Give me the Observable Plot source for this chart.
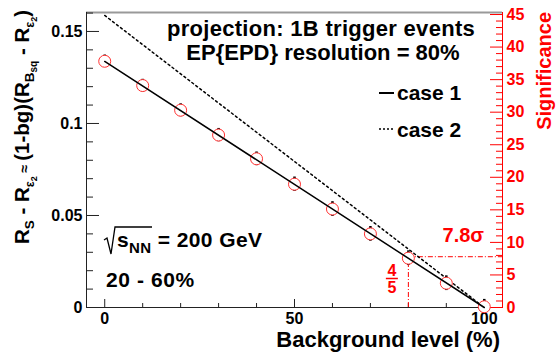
<!DOCTYPE html>
<html><head><meta charset="utf-8">
<script src="https://cdn.jsdelivr.net/npm/d3@7"></script>
<script src="https://cdn.jsdelivr.net/npm/@observablehq/plot@0.6"></script>
<style>
body{margin:0;background:#fff}
svg{font-family:"Liberation Sans",Arial,Helvetica,sans-serif;font-weight:bold}
</style>
</head><body><div id="chart"></div>
<script>
// ---- data ----
const bgLevel = [0, 10, 20, 30, 40, 50, 60, 70, 80, 90, 100];
const case1Points = [0.1338, 0.1206, 0.1072, 0.0937, 0.0808, 0.0670, 0.0535, 0.0400, 0.0268, 0.0132, 0.0004];
const pointErrors = [0.0034, 0.0034, 0.0035, 0.0036, 0.0037, 0.0039, 0.0040, 0.0040, 0.0040, 0.0040, 0.0040];
const fitBg = [0, 100];
const case1Fit = [0.1337, 0];
const case2Fit = [0.1587, 0];
const leftMajorTicks = [0, 0.05, 0.1, 0.15];
const leftTickLabels = ["0", "0.05", "0.1", "0.15"];
const xMajorTicks = [0, 50, 100];
const xMinorTicks = [10, 20, 30, 40, 60, 70, 80, 90];
const sigMajorTicks = [0, 5, 10, 15, 20, 25, 30, 35, 40, 45];
const sigMax = 45;
const sigMaxInY = 0.1592;      // left-axis value at which the right axis reads 45
const sigLevel = 7.8;
const sigBg = 80;

// ---- derived ----
const k = sigMaxInY / sigMax;
const xDom = [-4.8, 104.8];
const yDom = [0, 0.1603];
const points = bgLevel.map((b, i) => ({bg: b, v: case1Points[i], e: pointErrors[i]}));
const fit1 = fitBg.map((b, i) => ({bg: b, v: case1Fit[i]}));
const fit2 = fitBg.map((b, i) => ({bg: b, v: case2Fit[i]}));
const leftMinor = d3.range(1, 17).map(i => i / 100).filter(v => Math.abs(v * 20 - Math.round(v * 20)) > 1e-6);
const sigMinor = d3.range(1, sigMax).filter(v => v % 5 !== 0);
const RED = "#ff0000";

const plot = Plot.plot({
  width: 557, height: 356,
  marginLeft: 86, marginRight: 55, marginTop: 12, marginBottom: 49,
  x: {domain: xDom, axis: null, label: null},
  y: {domain: yDom, axis: null, label: null},
  style: {background: "white", fontFamily: '"Liberation Sans",Arial,sans-serif', fontWeight: "bold", overflow: "visible"},
  marks: [
    // frame
    Plot.ruleY([yDom[1]], {stroke: "#999", strokeWidth: 2}),
    Plot.ruleX([xDom[0]], {stroke: "#222", strokeWidth: 1}),
    Plot.ruleY([0], {stroke: "#222", strokeWidth: 1}),
    Plot.ruleX([xDom[1]], {stroke: RED, strokeWidth: 1}),
    // left axis
    Plot.axisY(leftMajorTicks, {anchor: "left", tickSize: -13, tickPadding: 17, fontSize: 16, stroke: "#222", fill: "black",
      tickFormat: d => leftTickLabels[leftMajorTicks.indexOf(d)], label: null}),
    Plot.axisY(leftMinor, {anchor: "left", tickSize: -7, stroke: "#222", fill: "none", label: null}),
    // bottom axis
    Plot.axisX(xMajorTicks, {anchor: "bottom", tickSize: -8, tickPadding: 13, fontSize: 16, stroke: "#222", fill: "black", label: null}),
    Plot.axisX(xMinorTicks, {anchor: "bottom", tickSize: -4, stroke: "#222", fill: "none", label: null}),
    // right (significance) axis
    Plot.axisY(sigMajorTicks.map(s => s * k), {anchor: "right", tickSize: -13, tickPadding: 17, fontSize: 16,
      stroke: RED, fill: RED, tickFormat: d => String(Math.round(d / k)), label: null}),
    Plot.axisY(sigMinor.map(s => s * k), {anchor: "right", tickSize: -7, stroke: RED, fill: "none", label: null}),
    // 7.8 sigma guide lines
    Plot.ruleY([sigLevel * k], {x1: sigBg, x2: xDom[1], stroke: RED, strokeWidth: 1, strokeDasharray: "5,2,1,2"}),
    Plot.ruleX([sigBg], {y1: 0, y2: sigLevel * k, stroke: RED, strokeWidth: 1, strokeDasharray: "5,2,1,2"}),
    // case 2
    Plot.line(fit2, {x: "bg", y: "v", stroke: "black", strokeWidth: 1.5, strokeDasharray: "2,3"}),
    // error bars + points
    Plot.ruleX(points, {x: "bg", y1: d => d.v - d.e, y2: d => d.v + d.e, stroke: "black", strokeWidth: 2.5}),
    Plot.dot(points, {x: "bg", y: "v", r: 6, stroke: "#ff3030", strokeWidth: 1, fill: "white"}),
    // case 1
    Plot.line(fit1, {x: "bg", y: "v", stroke: "black", strokeWidth: 1.5})
  ]
});
document.getElementById("chart").appendChild(plot);

// ---- annotations ----
const svg = d3.select(plot);
const sx = plot.scale("x"), sy = plot.scale("y");

function label(x, y, txt, size, opts = {}) {
  return svg.append("text").attr("x", x).attr("y", y)
    .attr("text-anchor", opts.anchor || "start")
    .attr("fill", opts.fill || "black").attr("font-size", size)
    .attr("font-weight", "bold").text(txt);
}

function richText(segs, base) {
  const t = svg.append("text").attr("text-anchor", base.anchor || "start")
    .attr("fill", base.fill || "black").attr("font-size", base.size)
    .attr("font-weight", "bold").attr("transform", base.transform);
  let prev = 0;
  segs.forEach(s => {
    const shift = s.shift || 0;
    t.append("tspan").attr("dy", shift - prev).attr("font-size", s.size || base.size).text(s.t);
    prev = shift;
  });
  return t;
}

// y-axis title
richText([
  {t: "R"}, {t: "S", size: 13.5, shift: 5}, {t: " - R", shift: 0},
  {t: "ε", size: 12.5, shift: 5}, {t: "2", size: 9, shift: 8},
  {t: " ≈ ", size: 14, shift: 0}, {t: "(1-bg)(R"},
  {t: "B", size: 13.5, shift: 5}, {t: "sq", size: 10, shift: 8},
  {t: " - R", shift: 0}, {t: "ε", size: 12.5, shift: 5}, {t: "2", size: 9, shift: 8},
  {t: ")", shift: 0}
], {size: 20.5, anchor: "end", transform: "translate(29,10) rotate(-90)"});

// right axis title
svg.append("text").attr("transform", "translate(551,12) rotate(-90)").attr("text-anchor", "end")
  .attr("fill", RED).attr("font-size", 20).attr("font-weight", "bold").text("Significance");

// x-axis title
label(500, 347, "Background level (%)", 22, {anchor: "end"});

// header
label(321, 36, "projection: 1B trigger events", 22, {anchor: "middle"}).attr("letter-spacing", 0.3);
label(323, 60, "EP{EPD} resolution = 80%", 22, {anchor: "middle"});

// legend
svg.append("line").attr("x1", 379).attr("x2", 394).attr("y1", 93).attr("y2", 93).attr("stroke", "black").attr("stroke-width", 2);
label(397, 100, "case 1", 21);
svg.append("line").attr("x1", 379).attr("x2", 394).attr("y1", 129).attr("y2", 129).attr("stroke", "black").attr("stroke-width", 1.5).attr("stroke-dasharray", "2,2");
label(397, 137, "case 2", 21);

// sqrt(s_NN)
svg.append("path").attr("d", "M104,240 L107,238 L111,254 L115,227 L152,227").attr("fill", "none").attr("stroke", "black").attr("stroke-width", 1.3);
richText([{t: "s"}, {t: "NN", size: 15, shift: 6}, {t: " = 200 GeV", shift: 0}], {size: 21, transform: "translate(117,247)"})
  .attr("letter-spacing", 0.4);
label(106, 287, "20 - 60%", 21).attr("letter-spacing", 0.6);

// 7.8 sigma and 4/5
const px80 = sx.apply(sigBg), pySig = sy.apply(sigLevel * k);
label(484, pySig - 14, "7.8σ", 20, {anchor: "end", fill: RED});
label(px80 - 16, 276, "4", 16, {anchor: "middle", fill: RED});
svg.append("line").attr("x1", px80 - 22).attr("x2", px80 - 10).attr("y1", 278.5).attr("y2", 278.5).attr("stroke", RED).attr("stroke-width", 1.5);
label(px80 - 16, 293, "5", 16, {anchor: "middle", fill: RED});
</script>
</body></html>
